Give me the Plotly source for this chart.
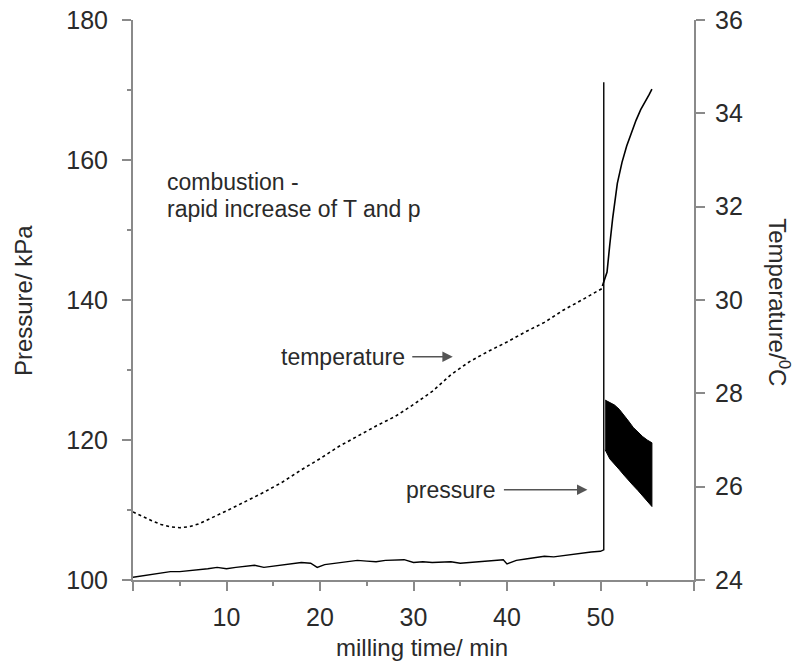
import plotly.graph_objects as go

# ---------------- data ----------------
# pressure (kPa) before combustion, incl. the spike at ignition
time_p = [0, 1, 2, 3, 4, 5, 6, 7, 8, 9, 10, 11, 12, 13, 14, 15, 16, 17, 18, 19,
          19.7, 20.5, 21, 22, 23, 24, 25, 26, 27, 28, 29, 30, 31, 32, 33, 34, 35,
          36, 37, 38, 39, 39.6, 40.0, 40.6, 41, 42, 43, 44, 45, 46, 47, 48, 49,
          50, 50.3, 50.35, 50.35, 50.35]
pressure = [100.4, 100.6, 100.9, 101.1, 101.2, 101.2, 101.3, 101.4, 101.6, 101.8,
            101.6, 101.8, 101.9, 102.1, 101.8, 102.0, 102.2, 102.3, 102.5, 102.4,
            101.8, 102.2, 102.3, 102.5, 102.6, 102.8, 102.7, 102.6, 102.8, 102.9,
            102.9, 102.5, 102.6, 102.5, 102.5, 102.6, 102.4, 102.5, 102.6, 102.7,
            102.9, 102.9, 102.3, 102.6, 102.8, 103.0, 103.2, 103.4, 103.3, 103.5,
            103.7, 103.8, 104.0, 104.1, 104.3, 104.3, 171.1, 125.7]

# oscillating pressure after combustion (envelope of the black band)
band_time = [50.5, 51.0, 51.5, 52.0, 52.5, 53.0, 53.5, 54.0, 54.5, 55.0, 55.5]
band_upper = [125.7, 125.4, 125.0, 124.4, 123.6, 122.7, 121.8, 121.1, 120.5, 120.0, 119.6]
band_lower = [118.6, 117.3, 116.5, 115.8, 115.0, 114.2, 113.5, 112.8, 112.1, 111.3, 110.5]

# temperature (deg C) before combustion (dotted) and after (solid)
time_t_pre = [0, 1, 2, 3, 4, 5, 6, 7, 8, 9, 10, 12, 14, 16, 18, 20, 22, 24, 26,
              28, 30, 32, 34, 36, 38, 40, 42, 44, 46, 48, 50.2]
temp_pre = [25.46, 25.36, 25.27, 25.19, 25.14, 25.12, 25.14, 25.2, 25.29, 25.38,
            25.48, 25.68, 25.88, 26.1, 26.36, 26.6, 26.86, 27.08, 27.3, 27.5,
            27.76, 28.04, 28.4, 28.68, 28.9, 29.1, 29.32, 29.52, 29.78, 30.0, 30.25]
time_t_post = [50.2, 50.7, 51.0, 51.3, 51.8, 52.3, 52.8, 53.3, 53.8, 54.3, 54.8, 55.2, 55.5]
temp_post = [30.3, 30.6, 31.2, 31.75, 32.5, 32.95, 33.3, 33.6, 33.85, 34.08, 34.25, 34.4, 34.52]

x_tickvals = [0, 10, 20, 30, 40, 50, 60]
x_ticktext = ["", "10", "20", "30", "40", "50", ""]
p_tickvals = [100, 120, 140, 160, 180]
t_tickvals = [24, 26, 28, 30, 32, 34, 36]

AXIS = "#8a8a8a"
TXT = "#2a2a2a"
FONT = "Liberation Sans, Arial, sans-serif"

fig = go.Figure()

fig.add_trace(go.Scatter(x=time_p, y=pressure, mode="lines",
                         line=dict(color="black", width=1.4), yaxis="y",
                         showlegend=False, hoverinfo="skip"))
fig.add_trace(go.Scatter(x=band_time + band_time[::-1], y=band_upper + band_lower[::-1],
                         mode="lines", fill="toself", fillcolor="black",
                         line=dict(color="black", width=1), yaxis="y",
                         showlegend=False, hoverinfo="skip"))
fig.add_trace(go.Scatter(x=time_t_pre, y=temp_pre, mode="lines",
                         line=dict(color="black", width=1.6, dash="3px,3px"), yaxis="y2",
                         showlegend=False, hoverinfo="skip"))
fig.add_trace(go.Scatter(x=time_t_post, y=temp_post, mode="lines",
                         line=dict(color="black", width=1.6), yaxis="y2",
                         showlegend=False, hoverinfo="skip"))

fig.update_layout(
    width=795, height=664, autosize=False,
    margin=dict(l=133, r=101, t=20, b=84),
    paper_bgcolor="white", plot_bgcolor="white",
    font=dict(family=FONT, color=TXT, size=25),
    xaxis=dict(range=[0, 60], tickvals=x_tickvals, ticktext=x_ticktext, automargin=False,
               showgrid=False, zeroline=False, showline=True, linecolor=AXIS, linewidth=2,
               ticks="outside", ticklen=9, tickwidth=1.5, tickcolor=AXIS,
               tickfont=dict(size=25, color=TXT), ticklabelstandoff=5,
               ticklabeloverflow="allow",
               minor=dict(dtick=5, ticks="outside", ticklen=4, tickcolor=AXIS, tickwidth=1.5)),
    yaxis=dict(range=[100, 180], tickvals=p_tickvals, automargin=False,
               showgrid=False, zeroline=False, showline=True, linecolor=AXIS, linewidth=2,
               ticks="outside", ticklen=9, tickwidth=1.5, tickcolor=AXIS,
               tickfont=dict(size=25, color=TXT), ticklabelstandoff=9,
               ticklabeloverflow="allow",
               minor=dict(dtick=10, ticks="outside", ticklen=4, tickcolor=AXIS, tickwidth=1.5)),
    yaxis2=dict(range=[24, 36], tickvals=t_tickvals, overlaying="y", side="right",
                automargin=False,
                showgrid=False, zeroline=False, showline=True, linecolor=AXIS, linewidth=2,
                ticks="outside", ticklen=9, tickwidth=1.5, tickcolor=AXIS,
                tickfont=dict(size=25, color=TXT), ticklabelstandoff=5,
                ticklabeloverflow="allow"),
)

ann_font = dict(family=FONT, size=23, color=TXT)
title_font = dict(family=FONT, size=24, color=TXT)

fig.add_annotation(xref="x", yref="y", x=3.4, y=156.9, text="combustion -",
                   showarrow=False, xanchor="left", yanchor="middle", font=ann_font)
fig.add_annotation(xref="x", yref="y", x=3.4, y=153.0, text="rapid increase of T and p",
                   showarrow=False, xanchor="left", yanchor="middle", font=ann_font)
fig.add_annotation(xref="x", yref="y", x=29.3, y=131.9, text="temperature",
                   showarrow=False, xanchor="right", yanchor="middle", font=ann_font)
fig.add_annotation(xref="x", yref="y", x=38.9, y=112.9, text="pressure",
                   showarrow=False, xanchor="right", yanchor="middle", font=ann_font)
# arrows
fig.add_annotation(xref="x", yref="y", x=34.2, y=131.9, text="", showarrow=True,
                   ax=-42, ay=0, arrowhead=2, arrowsize=1.3, arrowwidth=1.6, arrowcolor="#555")
fig.add_annotation(xref="x", yref="y", x=48.6, y=112.9, text="", showarrow=True,
                   ax=-85, ay=0, arrowhead=2, arrowsize=1.3, arrowwidth=1.6, arrowcolor="#555")

# axis titles
fig.add_annotation(xref="paper", yref="paper", x=(23 - 133) / 561, y=0.498,
                   text="Pressure/ kPa", textangle=-90, showarrow=False,
                   xanchor="center", yanchor="middle", font=title_font)
fig.add_annotation(xref="paper", yref="paper", x=(779 - 133) / 561, y=0.496,
                   text="Temperature/<sup>0</sup>C", textangle=90, showarrow=False,
                   xanchor="center", yanchor="middle", font=title_font)
fig.add_annotation(xref="paper", yref="paper", x=(422 - 133) / 561, y=(580 - 647) / 560,
                   text="milling time/ min", showarrow=False,
                   xanchor="center", yanchor="middle", font=title_font)

# remove the default 8px body margin so the figure fills the window exactly
fig.write_html("out.html", config={"displayModeBar": False},
               post_script="document.body.style.margin='0';")
